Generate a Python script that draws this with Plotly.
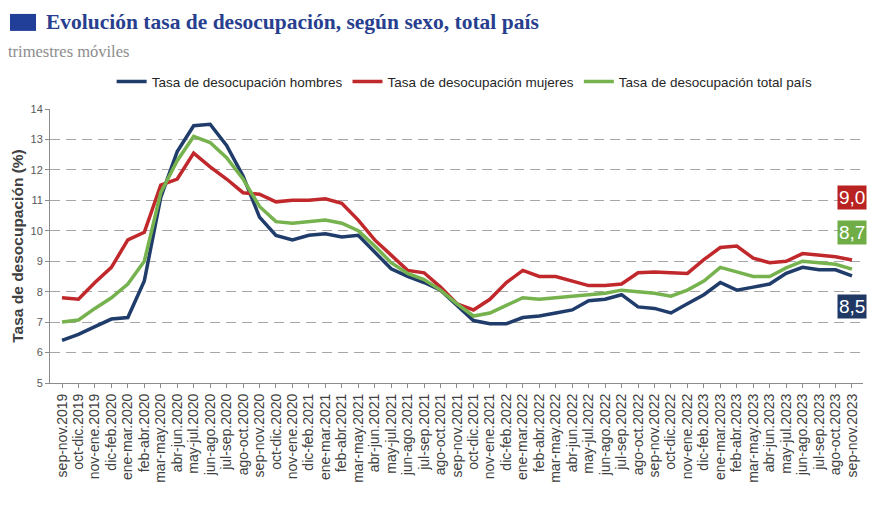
import plotly.graph_objects as go

# trimestres móviles
periodos = [
    "sep-nov.2019", "oct-dic.2019", "nov-ene.2019", "dic-feb.2020", "ene-mar.2020",
    "feb-abr.2020", "mar-may.2020", "abr-jun.2020", "may-jul.2020", "jun-ago.2020",
    "jul-sep.2020", "ago-oct.2020", "sep-nov.2020", "oct-dic.2020", "nov-ene.2020",
    "dic-feb.2021", "ene-mar.2021", "feb-abr.2021", "mar-may.2021", "abr-jun.2021",
    "may-jul.2021", "jun-ago.2021", "jul-sep.2021", "ago-oct.2021", "sep-nov.2021",
    "oct-dic.2021", "nov-ene.2021", "dic-feb.2022", "ene-mar.2022", "feb-abr.2022",
    "mar-may.2022", "abr-jun.2022", "may-jul.2022", "jun-ago.2022", "jul-sep.2022",
    "ago-oct.2022", "sep-nov.2022", "oct-dic.2022", "nov-ene.2022", "dic-feb.2023",
    "ene-mar.2023", "feb-abr.2023", "mar-may.2023", "abr-jun.2023", "may-jul.2023",
    "jun-ago.2023", "jul-sep.2023", "ago-oct.2023", "sep-nov.2023",
]

hombres = [
    6.4, 6.6, 6.85, 7.1, 7.15, 8.35, 11.1, 12.6, 13.45, 13.5,
    12.8, 11.8, 10.45, 9.85, 9.7, 9.85, 9.9, 9.8, 9.85, 9.3,
    8.75, 8.5, 8.3, 8.05, 7.55, 7.05, 6.95, 6.95, 7.15, 7.2,
    7.3, 7.4, 7.7, 7.75, 7.9, 7.5, 7.45, 7.3, 7.6, 7.9,
    8.3, 8.05, 8.15, 8.25, 8.6, 8.8, 8.72, 8.72, 8.52,
]

mujeres = [
    7.8, 7.75, 8.3, 8.8, 9.7, 9.95, 11.5, 11.7, 12.55, 12.1,
    11.7, 11.25, 11.2, 10.95, 11.0, 11.0, 11.05, 10.9, 10.35, 9.7,
    9.2, 8.7, 8.62, 8.15, 7.6, 7.4, 7.75, 8.3, 8.7, 8.5,
    8.5, 8.35, 8.2, 8.2, 8.25, 8.62, 8.65, 8.62, 8.6, 9.05,
    9.45, 9.5, 9.1, 8.95, 9.0, 9.25, 9.2, 9.15, 9.04,
]

total = [
    7.0, 7.07, 7.45, 7.8, 8.25, 9.0, 11.25, 12.3, 13.1, 12.9,
    12.4, 11.7, 10.8, 10.3, 10.25, 10.3, 10.35, 10.25, 10.0, 9.5,
    8.95, 8.6, 8.4, 8.05, 7.6, 7.2, 7.3, 7.55, 7.8, 7.75,
    7.8, 7.85, 7.9, 7.95, 8.05, 8.0, 7.95, 7.85, 8.05, 8.35,
    8.8, 8.65, 8.5, 8.5, 8.78, 9.0, 8.95, 8.9, 8.74,
]

series = [
    ("Tasa de desocupación hombres", hombres, "#1f3c6b", "#1f3864", 7.5),
    ("Tasa de desocupación mujeres", mujeres, "#c0282b", "#b82220", 11.1),
    ("Tasa de desocupación total país", total, "#76b24e", "#70ad47", 9.93),
]

fig = go.Figure()
for name, values, color, box_color, label_y in series:
    fig.add_trace(go.Scatter(
        x=periodos, y=values, name=name, mode="lines",
        line=dict(color=color, width=3.5),
    ))
    # etiqueta con el último valor
    fig.add_annotation(
        x=periodos[-1], y=label_y, xref="x", yref="y",
        text=f"{values[-1]:.1f}".replace(".", ","),
        showarrow=False, bgcolor=box_color, borderpad=1,
        font=dict(family="Liberation Sans, Arial", size=19, color="white"),
    )

# la página tiene 8 px de margen propio, por eso el lienzo es algo menor
fig.add_shape(type="rect", xref="paper", yref="paper",
              x0=-0.0492, x1=-0.0172, y0=1.285, y1=1.347,
              fillcolor="#213f99", line_width=0)

fig.add_annotation(
    xref="paper", yref="paper", x=-0.0074, y=1.268, xanchor="left", yanchor="bottom",
    text="<b>Evolución tasa de desocupación, según sexo, total país</b>",
    showarrow=False,
    font=dict(family="Liberation Serif, serif", size=21.5, color="#283f8f"),
)
fig.add_annotation(
    xref="paper", yref="paper", x=-0.054, y=1.168, xanchor="left", yanchor="bottom",
    text="trimestres móviles", showarrow=False,
    font=dict(family="Liberation Serif, serif", size=16.5, color="#8c8c8c"),
)

fig.update_layout(
    width=878, height=498,
    margin=dict(l=42, r=23, t=101, b=123, autoexpand=False),
    plot_bgcolor="white", paper_bgcolor="white",
    font=dict(family="Liberation Sans, Arial", color="#404040"),
    showlegend=True,
    legend=dict(orientation="h", x=0.51, xanchor="center", y=1.1, yanchor="middle",
                font=dict(size=13.5, color="#262626"), itemwidth=30,
                tracegroupgap=0),
)
fig.update_xaxes(
    type="category", range=[-0.73, 48.67], automargin=False,
    tickmode="linear", tick0=0, dtick=1,
    tickangle=-90, tickfont=dict(size=14, color="#404040"),
    showline=True, linecolor="#8c8c8c", linewidth=1,
    ticks="outside", ticklen=4, tickcolor="#8c8c8c",
    showgrid=False,
)
fig.update_yaxes(
    range=[5, 14], dtick=1, automargin=False,
    title=dict(text="<b>Tasa de desocupación (%)</b>", font=dict(size=15.5, color="#404040"),
               standoff=3),
    tickfont=dict(size=11, color="#595959"),
    showline=True, linecolor="#8c8c8c", linewidth=1,
    ticks="outside", ticklen=4, tickcolor="#8c8c8c",
    showgrid=True, gridcolor="#a6a6a6", gridwidth=1.2, griddash="10px,6px",
    zeroline=False,
)

fig.write_html("out.html")
